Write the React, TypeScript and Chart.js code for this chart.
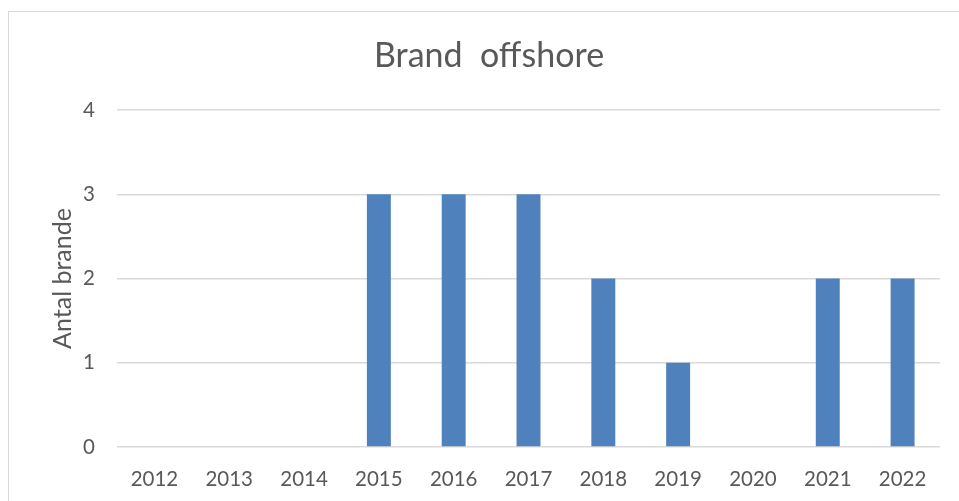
import React, { useEffect, useRef } from "react";
import { Chart, registerables } from "chart.js";

Chart.register(...registerables);

const categories = ["2012", "2013", "2014", "2015", "2016", "2017", "2018", "2019", "2020", "2021", "2022"];
const fires = [0, 0, 0, 3, 3, 3, 2, 1, 0, 2, 2];
const yTicks = [0, 1, 2, 3, 4];
const titleText = "Brand  offshore";
const yTitle = "Antal brande";

const FONT = "Lato";
const TEXT = "#595959";

export default function App() {
  const ref = useRef<HTMLCanvasElement | null>(null);

  useEffect(() => {
    if (!ref.current) return;
    const chart = new Chart(ref.current, {
      type: "bar",
      data: {
        labels: categories,
        datasets: [
          {
            label: yTitle,
            data: fires,
            backgroundColor: "#4F81BD",
            borderWidth: 0,
            categoryPercentage: 1,
            barPercentage: 0.32,
          },
        ],
      },
      options: {
        animation: false,
        responsive: false,
        maintainAspectRatio: false,
        layout: { padding: { left: 38, right: 19, top: 0, bottom: 0 } },
        plugins: {
          legend: { display: false },
          tooltip: { enabled: false },
          title: {
            display: true,
            text: titleText,
            color: TEXT,
            font: { family: FONT, size: 34, weight: "normal", lineHeight: 1.2 },
            padding: { top: 36, bottom: 33.2 },
          },
        },
        scales: {
          x: {
            grid: { display: false, drawTicks: false },
            border: { display: false },
            ticks: {
              color: TEXT,
              font: { family: FONT, size: 20.5 },
              padding: 20,
              maxRotation: 0,
              autoSkip: false,
            },
            afterFit: (s: any) => {
              s.height = 54;
            },
          },
          y: {
            min: yTicks[0],
            max: yTicks[yTicks.length - 1],
            grid: { color: "#d9d9d9", lineWidth: 1.5, drawTicks: false },
            border: { display: false },
            ticks: {
              stepSize: 1,
              color: TEXT,
              font: { family: FONT, size: 20.5 },
              padding: 22,
            },
            title: {
              display: true,
              text: yTitle,
              color: TEXT,
              font: { family: FONT, size: 25, weight: "normal", lineHeight: 1.2 },
              padding: { top: 10, bottom: 0 },
            },
            afterFit: (s: any) => {
              s.width = 79;
            },
          },
        },
      },
    });
    return () => chart.destroy();
  }, []);

  return (
    <div style={{ position: "fixed", left: 0, top: 0, width: 959, height: 501, background: "#fff", overflow: "hidden" }}>
      <div
        style={{
          position: "absolute",
          left: 8,
          top: 11,
          width: 960,
          height: 500,
          borderTop: "1px solid #d9d9d9",
          borderLeft: "1px solid #d9d9d9",
        }}
      />
      <canvas ref={ref} width={959} height={501} style={{ position: "absolute", left: 0, top: 0, width: 959, height: 501 }} />
    </div>
  );
}
